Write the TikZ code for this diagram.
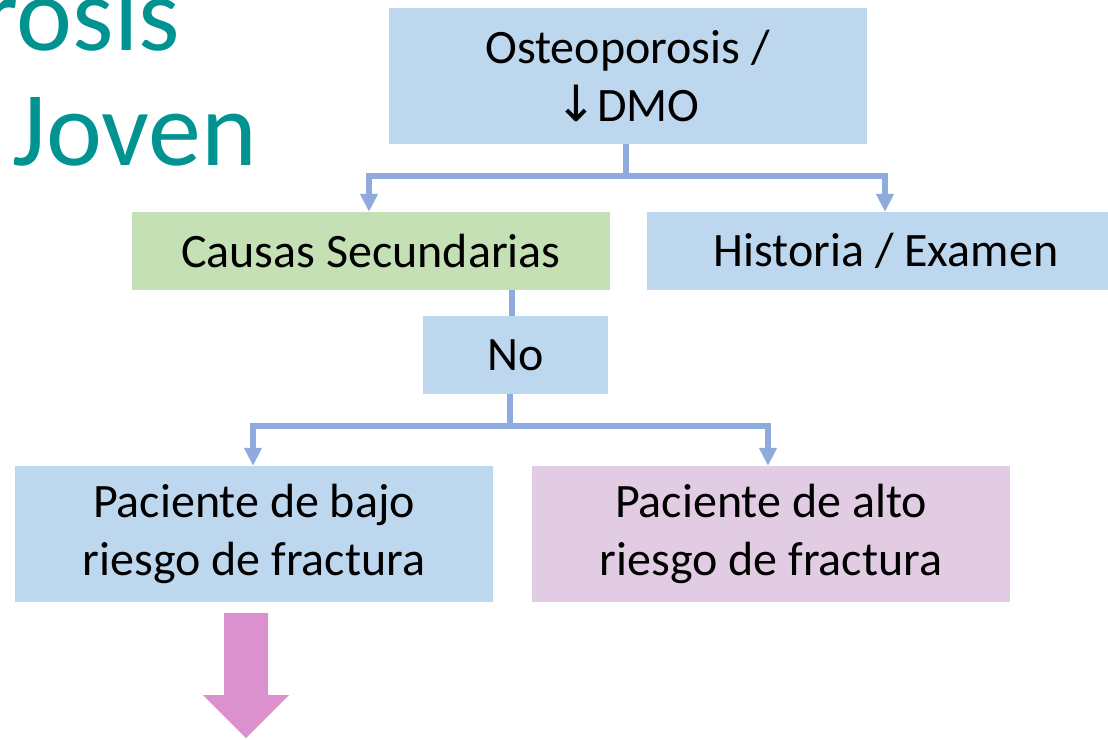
\documentclass[tikz,border=0pt]{standalone}
\usepackage{fontspec}
\setmainfont{Carlito}
\newfontfamily\symfont{DejaVu Sans}
\usetikzlibrary{arrows.meta}
\definecolor{boxblue}{HTML}{BDD7EE}
\definecolor{boxgreen}{HTML}{C5E0B4}
\definecolor{boxpink}{HTML}{E1CCE3}
\definecolor{connblue}{HTML}{8FAADC}
\definecolor{arrowpink}{HTML}{DA91CD}
\definecolor{titleteal}{RGB}{0,147,145}
\tikzset{
  fbox/.style={rectangle, inner sep=0pt, minimum width=478pt, align=center,
    font=\fontsize{48}{58}\selectfont, text=black},
  conn/.style={draw=connblue, line width=6pt},
  connarrow/.style={conn, -{Triangle[width=17pt,length=18pt]}},
  titletext/.style={inner sep=0pt, text=titleteal, font=\fontsize{106}{115}\selectfont}
}
\begin{document}
\begin{tikzpicture}[x=1pt,y=-1pt]
\useasboundingbox (0,0) rectangle (1108,739);
\clip (0,0) rectangle (1108,739);
% title
\node[titletext, anchor=base east] (t1) at (180,50) {rosis};
\node[titletext, anchor=base west] (t2) at (12,165) {Joven};
% boxes
\node[fbox, fill=boxblue, minimum height=136pt] (top) at (627.5,76) {Osteoporosis /\\{\symfont\fontsize{50}{58}\selectfont ↓}DMO};
\node[fbox, fill=boxgreen, minimum height=78pt] (causas) at (371,251) {Causas Secundarias};
\node[fbox, fill=boxblue, minimum height=78pt] (hist) at (886,251) {Historia / Examen};
\node[fbox, fill=boxblue, minimum width=185pt, minimum height=78pt] (no) at (515.5,355) {No};
\node[fbox, fill=boxblue, minimum height=136pt] (bajo) at (254,534) {Paciente de bajo\\riesgo de fractura};
\node[fbox, fill=boxpink, minimum height=136pt] (alto) at (771,534) {Paciente de alto\\riesgo de fractura};
% connectors
\coordinate (j1) at (626,176);
\draw[conn] (top.south -| j1) -- (j1);
\draw[connarrow] (j1) -| (causas.north -| 369,0);
\draw[connarrow] (j1) -| (hist.north -| 885,0);
\draw[conn] (causas.south -| 512,0) -- (no.north -| 512,0);
\coordinate (j2) at (510,426);
\draw[conn] (no.south -| j2) -- (j2);
\draw[connarrow] (j2) -| (bajo.north -| 253,0);
\draw[connarrow] (j2) -| (alto.north -| 768,0);
% block arrow
\fill[arrowpink] (224,613) -- (268,613) -- (268,695) -- (289,695) -- (246,738) -- (203,695) -- (224,695) -- cycle;
\end{tikzpicture}
\end{document}
